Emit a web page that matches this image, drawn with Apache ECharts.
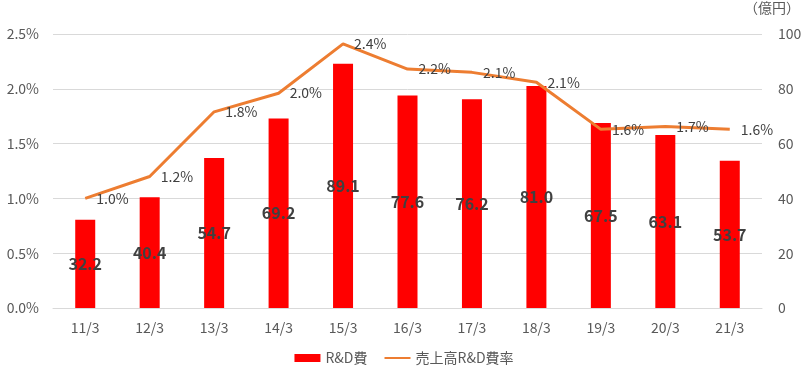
<!DOCTYPE html>
<html>
<head>
<meta charset="utf-8">
<script src="https://cdn.jsdelivr.net/npm/echarts@6/dist/echarts.min.js"></script>
<style>
	html, body { margin: 0; padding: 0; background: #fff; }
	#main { width: 808px; height: 376px; }
</style>
</head>
<body>
<div id="main"></div>
<script>
// 年度
var categories = ['11/3', '12/3', '13/3', '14/3', '15/3', '16/3', '17/3', '18/3', '19/3', '20/3', '21/3'];
// R&D費（億円）
var rdCost = [32.2, 40.4, 54.7, 69.2, 89.1, 77.6, 76.2, 81.0, 67.5, 63.1, 53.7];
// 売上高R&D費率（%）
var rdRatio = [1.0, 1.2, 1.79, 1.96, 2.41, 2.18, 2.15, 2.06, 1.63, 1.655, 1.63];

var fontJa = '"Noto Sans CJK JP", "Noto Sans", sans-serif';
var textColor = '#595959';

function showChart(divId) {
	var chart = echarts.init(document.getElementById(divId));
	var option = genOption();
	if (option && typeof option === "object") {
		chart.setOption(option, true);
	}
}

function genOption() {
	var option = {
		animation : false,
		textStyle : { fontFamily : fontJa },
		grid : {
			left : 53,
			right : 46,
			top : 34,
			bottom : 68
		},
		graphic : [ {
			type : 'text',
			right : 8,
			top : 1,
			style : {
				text : '（億円）',
				fill : textColor,
				font : '14px ' + fontJa
			}
		} ],
		legend : {
			bottom : 6,
			left : 'center',
			itemGap : 16,
			itemWidth : 26,
			itemHeight : 8,
			textStyle : { color : textColor, fontSize : 14, fontFamily : fontJa },
			data : [ {
				name : 'R&D費',
				icon : 'rect'
			}, {
				name : '売上高R&D費率',
				itemStyle : { opacity : 0 }
			} ]
		},
		xAxis : {
			type : 'category',
			data : categories,
			axisTick : { show : false },
			axisLine : { lineStyle : { color : '#D9D9D9' } },
			axisLabel : { color : textColor, fontSize : 14, margin : 13, fontFamily : fontJa }
		},
		yAxis : [ {
			type : 'value',
			min : 0,
			max : 2.5,
			interval : 0.5,
			axisLabel : {
				color : textColor,
				fontSize : 14,
				margin : 14,
				formatter : function(v) { return v.toFixed(1) + '%'; }
			},
			splitLine : { lineStyle : { color : '#D9D9D9' } }
		}, {
			type : 'value',
			min : 0,
			max : 100,
			interval : 20,
			position : 'right',
			axisLabel : { color : textColor, fontSize : 14, margin : 16 },
			splitLine : { show : false }
		} ],
		series : [ {
			name : 'R&D費',
			type : 'bar',
			yAxisIndex : 1,
			barWidth : 20,
			itemStyle : { color : '#FF0000' },
			label : {
				show : true,
				position : 'inside',
				color : '#404040',
				fontSize : 16,
				fontWeight : 'bold',
				formatter : function(p) { return p.value.toFixed(1); }
			},
			data : rdCost
		}, {
			name : '売上高R&D費率',
			type : 'line',
			yAxisIndex : 0,
			symbol : 'circle',
			symbolSize : 0.1,
			lineStyle : { color : '#ED7D31', width : 3 },
			itemStyle : { color : '#ED7D31' },
			label : {
				show : true,
				position : 'right',
				distance : 11,
				color : '#404040',
				fontSize : 14,
				formatter : function(p) { return p.value.toFixed(1) + '%'; }
			},
			labelLayout : { hideOverlap : false },
			data : rdRatio
		} ]
	};
	return option;
}

showChart('main');
</script>
</body>
</html>
